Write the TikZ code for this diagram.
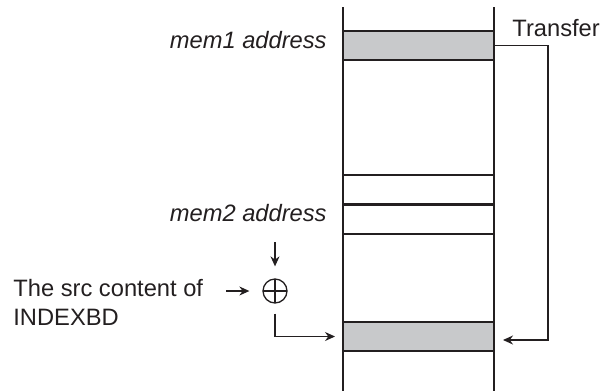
\documentclass[tikz,border=0pt]{standalone}
\usepackage{fontspec}
\setmainfont{Liberation Sans}
\usetikzlibrary{arrows.meta,positioning,calc}
\definecolor{ink}{HTML}{231F20}
\definecolor{cellgray}{HTML}{C8C9CB}
\tikzset{
  memline/.style={line width=1pt,color=ink},
  cell/.style={draw=ink,line width=1pt,minimum width=75.5pt,minimum height=14.5pt,inner sep=0pt,outer sep=0pt},
  cellg/.style={cell,fill=cellgray},
  arr/.style={-{Stealth[length=5pt,width=4.5pt]},line width=0.65pt,color=ink},
  lbl/.style={font=\fontsize{11.85}{14.5}\selectfont,text=ink,inner sep=0pt},
  lbli/.style={lbl,font=\fontsize{11.85}{14.5}\selectfont\itshape},
  xorop/.style={circle,draw=ink,line width=0.65pt,minimum size=12pt,inner sep=0pt,
    path picture={\draw[ink,line width=0.65pt] (path picture bounding box.north) -- (path picture bounding box.south)
      (path picture bounding box.west) -- (path picture bounding box.east);}},
}
\begin{document}
\begin{tikzpicture}[x=0.5pt,y=-0.5pt]
\useasboundingbox (0,0) rectangle (608,391);
% memory column
\draw[memline] (343,7) -- (343,391) (494,7) -- (494,391);
\node[cellg] (srcrow) at (418.5,45.5) {};
\node[cell] (gaprow) at (418.5,189) {};
\node[cell] (memtworow) at (418.5,219) {};
\node[cellg] (dstrow) at (418.5,336.5) {};
% labels
\node[lbli,anchor=base east] (lblmemone) at (327,48) {mem1 address};
\node[lbli,anchor=base east] (lblmemtwo) at (327,221) {mem2 address};
\node[lbl,anchor=base west] (lbltransfer) at (512,36) {Transfer};
\node[lbl,anchor=base west,align=left] (lblsrc) at (13,325) {The src content of\\INDEXBD};
% adder
\node[xorop] (plusop) at (275,291) {};
\coordinate (memtwoin) at (275,242);
\coordinate (srcin) at (226,291);
\draw[arr,shorten >=6pt] (memtwoin) -- (plusop.north);
\draw[arr,shorten >=6.5pt] (srcin) -- (plusop.west);
\draw[arr,shorten <=5pt] (plusop.south) |- ([xshift=-4pt]dstrow.west);
% transfer path
\draw[arr] (srcrow.east) -| ($(dstrow.east)+(54,3.5)$) -- ($(dstrow.east)+(9,3.5)$);
\end{tikzpicture}
\end{document}
